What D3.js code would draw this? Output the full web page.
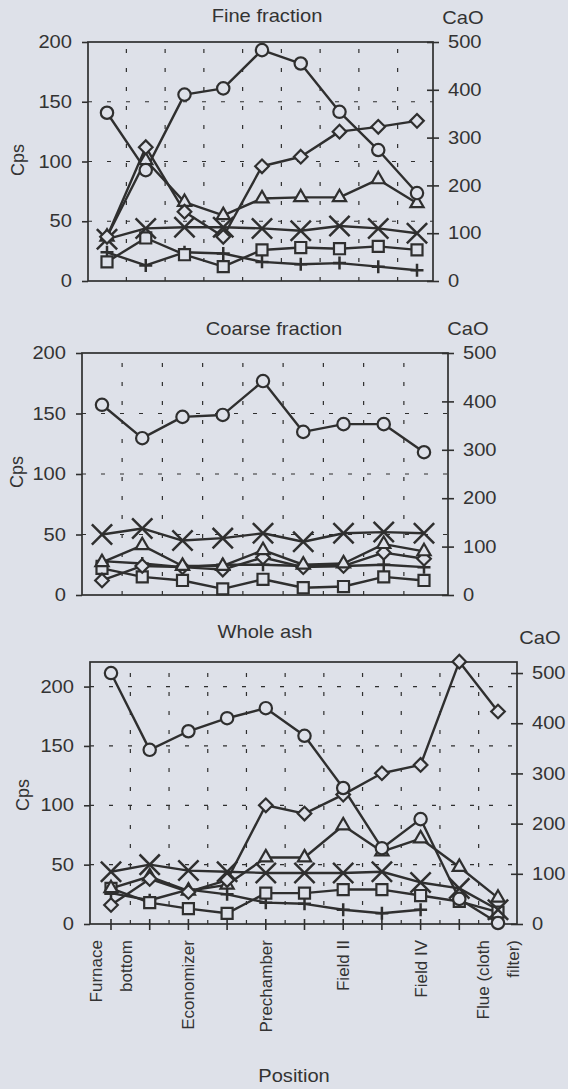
<!DOCTYPE html>
<html>
<head>
<meta charset="utf-8">
<script src="https://cdn.jsdelivr.net/npm/d3@7"></script>
<style>
  html, body { margin: 0; padding: 0; background: #dee1e9; }
  svg { display: block; }
  text { font-family: "Liberation Sans", Arial, sans-serif; fill: #333333; }
</style>
</head>
<body>
<svg id="chart" width="568" height="1089"></svg>
<script>
// sampling positions along the flue gas path (only every other one is named)
const positionLabels = [["Furnace", "bottom"], [], ["Economizer"], [], ["Prechamber"], [], ["Field II"], [], ["Field IV"], [], ["Flue (cloth", "filter)"]];

const cpsTicks = [0, 50, 100, 150, 200];
const caoTicks = [0, 100, 200, 300, 400, 500];

// Fine fraction, first 9 positions. Circles = CaO (right axis), the rest Cps
const fineCircle = [352, 232, 390, 403, 483, 455, 354, 274, 184];
const fineDiamond = [37, 112, 58, 37, 96, 104, 125, 129, 134];
const fineTriangle = [37, 101, 66, 55, 69, 70, 70, 85, 65];
const fineX = [35, 44, 45, 45, 44, 42, 46, 44, 40];
const fineSquare = [16, 36, 22, 12, 26, 28, 27, 29, 26];
const finePlus = [24, 13, 24, 23, 16, 14, 15, 12, 9];

// Coarse fraction, first 9 positions
const coarseCircle = [393, 324, 368, 372, 442, 337, 353, 353, 295];
const coarseDiamond = [12, 24, 23, 21, 31, 23, 24, 35, 30];
const coarseTriangle = [27, 41, 24, 24, 37, 25, 26, 42, 36];
const coarseX = [50, 55, 45, 47, 51, 44, 51, 52, 51];
const coarseSquare = [22, 15, 12, 5, 13, 6, 7, 15, 12];
const coarsePlus = [28, 26, 23, 25, 25, 24, 24, 25, 23];

// Whole ash, all 11 positions (plus series stops at Field IV)
const wholeCircle = [500, 347, 384, 410, 430, 375, 271, 151, 209, 50, 2];
const wholeDiamond = [16, 38, 27, 37, 100, 93, 109, 127, 134, 221, 179];
const wholeTriangle = [30, 40, 28, 33, 56, 56, 83, 61, 72, 48, 22];
const wholeX = [44, 50, 45, 44, 43, 43, 43, 44, 35, 30, 12];
const wholeSquare = [30, 18, 13, 9, 26, 26, 29, 29, 24, 19, 10];
const wholePlus = [26, 20, 29, 25, 18, 17, 12, 9, 12];

const ink = '#2f2f2f';
const paper = '#dee1e9';
const stretch = 1.15; // the scanned type is a little wider than it is tall

const svg = d3.select('#chart');

const symbols = {
    circle: d3.symbol(d3.symbolCircle, 120),
    square: d3.symbol(d3.symbolSquare2 || d3.symbolSquare, 155),
    diamond: d3.symbol(d3.symbolDiamond2 || d3.symbolDiamond, 118),
    triangle: d3.symbol(d3.symbolTriangle2 || d3.symbolTriangle, 125),
    x: d3.symbol(d3.symbolX || d3.symbolCross, 270),
    plus: d3.symbol(d3.symbolPlus || d3.symbolCross, 57)
};

function label(g, str, x, y, anchor) {
    return g.append('text')
        .attr('transform', `translate(${x},${y}) scale(${stretch},1)`)
        .attr('text-anchor', anchor || 'middle')
        .attr('font-size', '17.5px')
        .text(str);
}

const panels = [
    {
        title: 'Fine fraction', titlePos: [267, 22], caoPos: [463, 24], cpsPos: [18, 160],
        x0: 88, x1: 433, y0: 42, y1: 281, points: [107, 417], n: 9, cpsMax: 200, caoMax: 500,
        series: [
            { shape: 'plus', values: finePlus },
            { shape: 'square', values: fineSquare },
            { shape: 'x', values: fineX },
            { shape: 'triangle', values: fineTriangle },
            { shape: 'diamond', values: fineDiamond },
            { shape: 'circle', values: fineCircle, cao: true }
        ]
    },
    {
        title: 'Coarse fraction', titlePos: [274, 335], caoPos: [468, 335], cpsPos: [17, 472],
        x0: 82, x1: 448, y0: 353, y1: 595, points: [102, 424], n: 9, cpsMax: 200, caoMax: 500,
        series: [
            { shape: 'plus', values: coarsePlus },
            { shape: 'square', values: coarseSquare },
            { shape: 'x', values: coarseX },
            { shape: 'diamond', values: coarseDiamond },
            { shape: 'triangle', values: coarseTriangle },
            { shape: 'circle', values: coarseCircle, cao: true }
        ]
    },
    {
        title: 'Whole ash', titlePos: [265, 638], caoPos: [540, 644], cpsPos: [23, 795],
        x0: 90, x1: 517, y0: 662, y1: 924, points: [111, 498], n: 11, cpsMax: 220.7, caoMax: 522,
        xAxis: true,
        series: [
            { shape: 'plus', values: wholePlus },
            { shape: 'square', values: wholeSquare },
            { shape: 'x', values: wholeX },
            { shape: 'triangle', values: wholeTriangle },
            { shape: 'diamond', values: wholeDiamond },
            { shape: 'circle', values: wholeCircle, cao: true }
        ]
    }
];

panels.forEach(drawPanel);

function drawPanel(p) {
    const g = svg.append('g');
    const idx = d3.range(p.n);
    const x = d3.scalePoint().domain(idx).range(p.points);
    const yCps = d3.scaleLinear().domain([0, p.cpsMax]).range([p.y1, p.y0]);
    const yCaO = d3.scaleLinear().domain([0, p.caoMax]).range([p.y1, p.y0]);

    // dashed grid: horizontal at the Cps ticks, vertical halfway between positions
    const grid = g.append('g')
        .attr('stroke', ink)
        .attr('stroke-width', 1.2)
        .attr('stroke-dasharray', '4,15');
    grid.selectAll('.gh')
        .data(cpsTicks.filter(v => v > 0 && yCps(v) > p.y0 + 3))
        .join('line')
        .attr('x1', p.x0).attr('x2', p.x1)
        .attr('y1', d => yCps(d)).attr('y2', d => yCps(d));
    grid.selectAll('.gv')
        .data(d3.pairs(idx))
        .join('line')
        .attr('x1', d => (x(d[0]) + x(d[1])) / 2).attr('x2', d => (x(d[0]) + x(d[1])) / 2)
        .attr('y1', p.y1).attr('y2', p.y0);

    g.append('rect')
        .attr('x', p.x0).attr('y', p.y0)
        .attr('width', p.x1 - p.x0).attr('height', p.y1 - p.y0)
        .attr('fill', 'none').attr('stroke', ink).attr('stroke-width', 1.7);

    // left Cps axis
    const left = g.append('g')
        .attr('transform', `translate(${p.x0},0)`)
        .attr('color', ink)
        .attr('font-size', null).attr('font-family', null)
        .call(d3.axisLeft(yCps).tickValues(cpsTicks).tickSize(6).tickSizeOuter(0));
    left.select('.domain').remove();
    left.selectAll('line').attr('stroke-width', 1.6);
    left.selectAll('text')
        .attr('x', 0)
        .attr('font-size', '17.5px')
        .attr('transform', `translate(-16,0) scale(${stretch},1)`);

    // right CaO axis, ticks cross the frame
    const right = g.append('g')
        .attr('transform', `translate(${p.x1},0)`)
        .attr('color', ink)
        .attr('font-size', null).attr('font-family', null)
        .call(d3.axisRight(yCaO).tickValues(caoTicks).tickSize(6).tickSizeOuter(0));
    right.select('.domain').remove();
    right.selectAll('line').attr('x1', -6).attr('stroke-width', 1.6);
    right.selectAll('text')
        .attr('x', 0)
        .attr('font-size', '17.5px')
        .attr('transform', `translate(15,0) scale(${stretch},1)`);

    label(g, p.title, p.titlePos[0], p.titlePos[1]);
    label(g, 'CaO', p.caoPos[0], p.caoPos[1]);
    g.append('text')
        .attr('transform', `translate(${p.cpsPos[0]},${p.cpsPos[1]}) rotate(-90)`)
        .attr('text-anchor', 'middle')
        .attr('dy', '0.35em')
        .attr('font-size', '18px')
        .text('Cps');

    if (p.xAxis) {
        g.selectAll('.xt')
            .data(idx)
            .join('line')
            .attr('x1', d => x(d)).attr('x2', d => x(d))
            .attr('y1', p.y1 - 5).attr('y2', p.y1 + 6)
            .attr('stroke', ink).attr('stroke-width', 1.6);
        const xl = g.selectAll('.xl')
            .data(idx.filter(i => positionLabels[i].length))
            .join('text')
            .attr('transform', d => `translate(${x(d)},940) rotate(-90)`)
            .attr('text-anchor', 'end')
            .attr('font-size', '17px');
        xl.selectAll('tspan')
            .data(d => positionLabels[d].map((s, k, a) => ({ s, off: (k - (a.length - 1) / 2) * 1.8 })))
            .join('tspan')
            .attr('x', 0)
            .attr('y', 0)
            .attr('dy', d => (0.35 + d.off) + 'em')
            .text(d => d.s);
        label(g, 'Position', 294, 1082);
    }

    const line = d3.line()
        .x(d => x(d.i))
        .y(d => d.y);

    const rows = p.series.map(s => ({
        shape: s.shape,
        pts: s.values.map((v, i) => ({ i, y: (s.cao ? yCaO : yCps)(v) }))
    }));

    g.selectAll('.series')
        .data(rows)
        .join('path')
        .attr('d', d => line(d.pts))
        .attr('fill', 'none')
        .attr('stroke', ink)
        .attr('stroke-width', 2.4)
        .attr('stroke-linejoin', 'round');

    rows.forEach(r => {
        g.selectAll(null)
            .data(r.pts)
            .join('path')
            .attr('transform', d => `translate(${x(d.i)},${d.y})`)
            .attr('d', symbols[r.shape]())
            .attr('fill', r.shape === 'x' || r.shape === 'plus' ? 'none' : paper)
            .attr('stroke', ink)
            .attr('stroke-width', r.shape === 'x' || r.shape === 'plus' ? 2.5 : 2.2);
    });
}
</script>
</body>
</html>
